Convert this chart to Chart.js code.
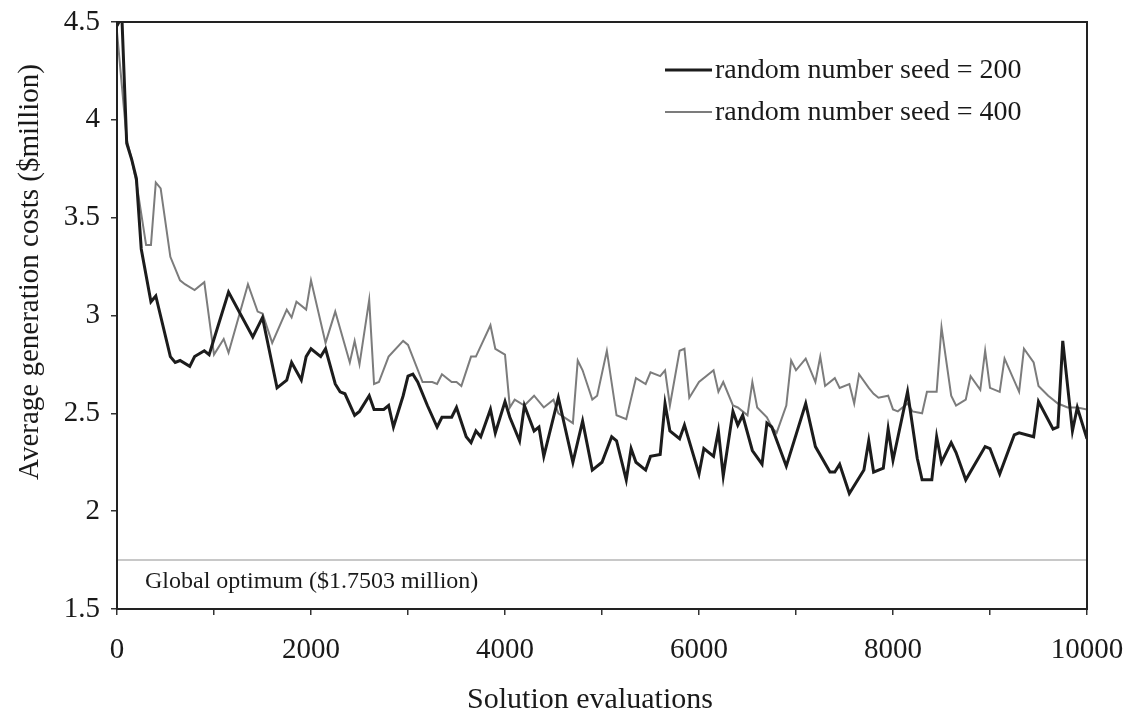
<!DOCTYPE html>
<html>
<head>
<meta charset="utf-8">
<script src="https://cdn.jsdelivr.net/npm/chart.js@4.4.1/dist/chart.umd.min.js"></script>
<style>
  html, body { margin: 0; padding: 0; background: #ffffff; }
  #wrap { width: 1127px; height: 713px; position: relative; }
</style>
</head>
<body>
<div id="wrap"><canvas id="chart" width="1127" height="713"></canvas></div>
<script>
// Average generation cost of the population vs. number of solution evaluations
const evals200 = [0,50,100,150,200,250,350,400,550,600,650,750,800,900,950,1150,1400,1500,1650,1750,
  1800,1900,1950,2000,2100,2150,2250,2300,2350,2450,2500,2600,2650,2750,2800,2850,2950,3000,3050,3100,
  3200,3300,3350,3450,3500,3600,3650,3700,3750,3850,3900,4000,4050,4150,4200,4300,4350,4400,4550,4700,
  4800,4900,5000,5100,5150,5250,5300,5350,5450,5500,5600,5650,5700,5800,5850,6000,6050,6150,6200,6250,
  6350,6400,6450,6550,6650,6700,6750,6900,7100,7200,7350,7400,7450,7550,7700,7750,7800,7900,7950,8000,
  8150,8250,8300,8400,8450,8500,8600,8650,8750,8950,9000,9100,9250,9300,9450,9500,9650,9700,9750,9850,
  9900,10000];
const cost200 = [4.48,4.53,3.88,3.80,3.70,3.34,3.07,3.10,2.79,2.76,2.77,2.74,2.79,2.82,2.80,3.12,2.89,2.99,2.63,2.67,
  2.76,2.67,2.79,2.83,2.79,2.83,2.65,2.61,2.60,2.49,2.51,2.59,2.52,2.52,2.54,2.43,2.59,2.69,2.70,2.66,
  2.54,2.43,2.48,2.48,2.53,2.38,2.35,2.41,2.38,2.52,2.40,2.56,2.48,2.36,2.54,2.41,2.43,2.28,2.58,2.25,
  2.46,2.21,2.25,2.38,2.36,2.16,2.32,2.25,2.21,2.28,2.29,2.55,2.41,2.37,2.44,2.19,2.32,2.28,2.41,2.18,
  2.51,2.44,2.49,2.31,2.24,2.45,2.43,2.23,2.55,2.33,2.20,2.20,2.24,2.09,2.21,2.36,2.20,2.22,2.42,2.26,
  2.61,2.27,2.16,2.16,2.38,2.25,2.35,2.30,2.16,2.33,2.32,2.19,2.39,2.40,2.38,2.56,2.42,2.43,2.87,2.41,
  2.53,2.37];

const evals400 = [0,100,150,200,300,350,400,450,550,650,700,800,900,1000,1100,1150,1350,1450,1500,1600,
  1750,1800,1850,1950,2000,2150,2250,2400,2450,2500,2600,2650,2700,2800,2950,3000,3150,3250,3300,3350,
  3450,3500,3550,3650,3700,3850,3900,4000,4050,4100,4200,4300,4400,4500,4550,4700,4750,4800,4900,4950,
  5050,5150,5250,5350,5450,5500,5600,5650,5700,5800,5850,5900,6000,6150,6200,6250,6350,6400,6500,6550,
  6600,6700,6750,6800,6900,6950,7000,7100,7200,7250,7300,7400,7450,7550,7600,7650,7750,7800,7850,7950,
  8000,8050,8150,8200,8300,8350,8450,8500,8600,8650,8750,8800,8900,8950,9000,9100,9150,9300,9350,9450,
  9500,9600,9700,9800,9900,10000];
const cost400 = [4.45,3.90,3.80,3.68,3.36,3.36,3.68,3.65,3.30,3.18,3.16,3.13,3.17,2.80,2.88,2.81,3.16,3.02,3.01,2.86,
  3.03,2.99,3.07,3.03,3.18,2.86,3.02,2.76,2.87,2.75,3.08,2.65,2.66,2.79,2.87,2.85,2.66,2.66,2.65,2.70,
  2.66,2.66,2.64,2.79,2.79,2.95,2.83,2.80,2.53,2.57,2.54,2.59,2.53,2.57,2.50,2.45,2.77,2.72,2.57,2.59,
  2.82,2.49,2.47,2.68,2.65,2.71,2.69,2.72,2.54,2.82,2.83,2.58,2.66,2.72,2.61,2.66,2.54,2.53,2.49,2.66,
  2.53,2.48,2.43,2.40,2.54,2.77,2.72,2.78,2.66,2.79,2.64,2.68,2.63,2.65,2.55,2.70,2.63,2.60,2.58,2.59,
  2.52,2.51,2.55,2.51,2.50,2.61,2.61,2.94,2.59,2.54,2.57,2.69,2.62,2.82,2.63,2.61,2.78,2.61,2.83,2.76,
  2.64,2.59,2.55,2.53,2.53,2.52];

const globalOptimum = 1.7503;
const optimumLabel = 'Global optimum ($1.7503 million)';
const seriesNames = ['random number seed = 200', 'random number seed = 400'];
const xTitle = 'Solution evaluations';
const yTitle = 'Average generation costs ($million)';
const xTickValues = [0,1000,2000,3000,4000,5000,6000,7000,8000,9000,10000];
const xTickLabels = ['0','','2000','','4000','','6000','','8000','','10000'];
const yTickValues = [1.5,2,2.5,3,3.5,4,4.5];
const yTickLabels = ['1.5','2','2.5','3','3.5','4','4.5'];

const SERIF = "'Liberation Serif', 'Times New Roman', serif";
Chart.defaults.font.family = SERIF;
Chart.defaults.color = '#1a1a1a';

const toPoints = (xs, ys) => xs.map((x, i) => ({x: x, y: ys[i]}));

// Frame around the plot area, axis titles, the optimum caption and the legend
const decorations = {
  id: 'decorations',
  afterDraw(chart) {
    const {ctx, chartArea: a, scales} = chart;
    ctx.save();
    ctx.strokeStyle = '#222';
    ctx.lineWidth = 2;
    ctx.strokeRect(a.left, a.top, a.right - a.left, a.bottom - a.top);

    ctx.fillStyle = '#1a1a1a';
    ctx.textBaseline = 'middle';

    // axis titles
    ctx.textAlign = 'center';
    ctx.font = '30px ' + SERIF;
    ctx.fillText(xTitle, 590, 700);
    ctx.save();
    ctx.translate(30, 272);
    ctx.rotate(-Math.PI / 2);
    ctx.font = '29px ' + SERIF;
    ctx.fillText(yTitle, 0, 0);
    ctx.restore();

    ctx.textAlign = 'left';
    ctx.font = '24px ' + SERIF;
    const yOpt = scales.y.getPixelForValue(globalOptimum);
    ctx.fillText(optimumLabel, a.left + 28, yOpt + 22);

    ctx.font = '28px ' + SERIF;
    const rows = [70, 112];
    chart.data.datasets.slice(0, 2).forEach((ds, i) => {
      ctx.strokeStyle = ds.borderColor;
      ctx.lineWidth = ds.borderWidth;
      ctx.beginPath();
      ctx.moveTo(665, rows[i]);
      ctx.lineTo(712, rows[i]);
      ctx.stroke();
      ctx.fillText(ds.label, 715, rows[i] + 1);
    });
    ctx.restore();
  }
};

new Chart(document.getElementById('chart'), {
  type: 'line',
  data: {
    datasets: [
      {
        label: seriesNames[0],
        data: toPoints(evals200, cost200),
        borderColor: '#1c1c1c',
        borderWidth: 3,
        pointRadius: 0,
        tension: 0,
        fill: false
      },
      {
        label: seriesNames[1],
        data: toPoints(evals400, cost400),
        borderColor: '#7c7c7c',
        borderWidth: 2,
        pointRadius: 0,
        tension: 0,
        fill: false
      },
      {
        label: 'optimum',
        data: [{x: 0, y: globalOptimum}, {x: 10000, y: globalOptimum}],
        borderColor: '#c8c8c8',
        borderWidth: 2,
        pointRadius: 0,
        fill: false
      }
    ]
  },
  options: {
    responsive: false,
    animation: false,
    layout: { padding: { top: 22, right: 40, left: 0, bottom: 0 } },
    plugins: { legend: { display: false }, tooltip: { enabled: false } },
    scales: {
      x: {
        type: 'linear',
        min: 0,
        max: 10000,
        afterFit(scale) {
          scale.height = 104;
          scale.paddingLeft = 0;
          scale.paddingRight = 0;
        },
        afterBuildTicks(scale) { scale.ticks = xTickValues.map(v => ({value: v})); },
        ticks: {
          autoSkip: false,
          maxRotation: 0,
          padding: 18,
          font: { size: 29 },
          color: '#1a1a1a',
          callback: (v) => { const i = xTickValues.indexOf(v); return i >= 0 ? xTickLabels[i] : ''; }
        },
        grid: { drawOnChartArea: false, drawTicks: true, tickLength: 6, color: '#333', lineWidth: 1.5 },
        border: { display: true, color: '#222', width: 2 },
        title: { display: false }
      },
      y: {
        type: 'linear',
        min: 1.5,
        max: 4.5,
        afterFit(scale) {
          scale.width = 117;
          scale.paddingTop = 0;
          scale.paddingBottom = 0;
        },
        afterBuildTicks(scale) { scale.ticks = yTickValues.map(v => ({value: v})); },
        ticks: {
          padding: 11,
          font: { size: 29 },
          color: '#1a1a1a',
          callback: (v) => { const i = yTickValues.indexOf(v); return i >= 0 ? yTickLabels[i] : ''; }
        },
        grid: { drawOnChartArea: false, drawTicks: true, tickLength: 6, color: '#333', lineWidth: 1.5 },
        border: { display: true, color: '#222', width: 2 },
        title: { display: false }
      }
    }
  },
  plugins: [decorations]
});
</script>
</body>
</html>
